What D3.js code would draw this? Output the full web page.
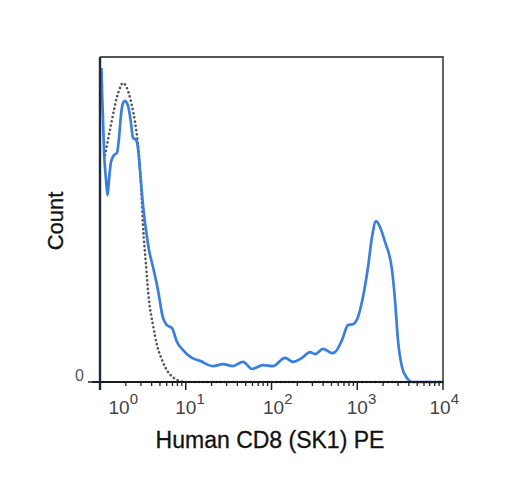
<!DOCTYPE html>
<html>
<head>
<meta charset="utf-8">
<script src="https://cdn.jsdelivr.net/npm/d3@7"></script>
<style>
html,body{margin:0;padding:0;background:#fff;}
svg{display:block;font-family:"Liberation Sans",Arial,sans-serif;}
</style>
</head>
<body>
<svg id="chart" width="512" height="480"></svg>
<script>
// Fluorescence values (log axis) and counts
const stainedX = [1.04,1.055,1.084,1.113,1.175,1.223,1.273,1.343,1.456,1.578,1.666,1.758,1.854,1.956,2.064,2.178,2.299,2.426,2.63,2.774,2.927,3.172,3.439,3.728,4.15,4.743,5.429,6.04,6.91,7.91,9.29,11.83,14.66,20.8,27.2,35.6,46.5,59.3,79.6,104,144,178,227,281,322,399,508,551,664,780,892,1021,1167,1335,1486,1655,1842,2107,2543,2756,2985,3325,3803,4350,6000,10000];
const stainedY = [96.6,89.8,80.6,71.4,62.2,57.5,62.2,67.7,69.8,70.5,75.1,82.2,85.8,86.5,85.8,83.7,79.7,75.1,74.5,72.0,65.2,54.5,46.8,40.6,35.4,28.3,19.7,17.5,16.6,12.3,9.8,7.4,6.5,4.9,5.5,4.9,6.2,4.0,5.2,4.9,7.4,6.2,7.4,9.2,8.6,10.2,8.9,9.2,12.9,17.5,17.8,20.0,26.2,35.4,44.6,49.5,47.7,43.1,34.5,25.2,12.9,4.6,1.2,0,0,0];
const controlX = [1.144,1.24,1.343,1.456,1.578,1.711,1.854,2.009,2.178,2.36,2.56,2.774,3.006,3.172,3.439,3.728,4.15,4.62,5.28,6.21,7.29,8.57,10.07,100,1000,10000];
const controlY = [69.8,74.5,79.1,83.7,87.7,90.5,92.0,91.1,88.6,84.9,80.0,72.9,60.6,48.3,36.0,25.2,17.5,11.4,6.8,3.1,1.2,0.3,0,0,0,0];
const decadeTicks = [1,10,100,1000,10000];
const decadeExps = ["0","1","2","3","4"];
const yTicks = [0];
const yTickLabels = ["0"];
const xTitle = "Human CD8 (SK1) PE";
const yTitle = "Count";

const svg = d3.select("#chart");
const L = 100, R = 443, T = 57, B = 382;
const x = d3.scaleLog().domain([1,10000]).range([L,R]);
const y = d3.scaleLinear().domain([0,100]).range([B,T]);

// frame top/right
svg.append("path")
  .attr("d", `M${L},${T}H${R}V${B}`)
  .attr("fill","none").attr("stroke","#555").attr("stroke-width",1.8);

const line = d3.line().x(d=>x(d[0])).y(d=>y(d[1])).curve(d3.curveMonotoneX);

// control (dotted)
svg.append("path")
  .datum(controlX.map((v,i)=>[v,controlY[i]]))
  .attr("d", line)
  .attr("fill","none").attr("stroke","#555").attr("stroke-width",2.6)
  .attr("stroke-dasharray","0.1,4.2").attr("stroke-linecap","round");

// stained (blue)
svg.append("path")
  .datum(stainedX.map((v,i)=>[v,stainedY[i]]))
  .attr("d", line)
  .attr("fill","none").attr("stroke","#3a7fdd").attr("stroke-width",2.7)
  .attr("stroke-linejoin","round");

// x axis
const minor = [];
for (let d=1; d<10000; d*=10) for (let k=2;k<10;k++) minor.push(d*k);
const xg = svg.append("g");
xg.append("line").attr("x1",92).attr("x2",R).attr("y1",B).attr("y2",B)
  .attr("stroke","#1a1a1a").attr("stroke-width",1.8);
xg.selectAll(".mn").data(minor).enter().append("line")
  .attr("x1",d=>x(d)).attr("x2",d=>x(d)).attr("y1",B).attr("y2",B+4)
  .attr("stroke","#222").attr("stroke-width",1.3);
xg.selectAll(".mj").data(decadeTicks).enter().append("line")
  .attr("x1",d=>x(d)).attr("x2",d=>x(d)).attr("y1",B-1).attr("y2",B+8)
  .attr("stroke","#222").attr("stroke-width",1.5);

const labelShift = [19,0,2,0,-3];
const lab = xg.selectAll(".tl").data(decadeTicks).enter().append("text")
  .attr("x",(d,i)=>x(d)+labelShift[i]-10.5)
  .attr("y",414)
  .attr("font-size",19).attr("fill","#444");
lab.append("tspan").text("10");
lab.append("tspan").attr("dy",-10).attr("font-size",15).text((d,i)=>decadeExps[i]);

// y axis
const yg = svg.append("g");
yg.append("line").attr("x1",L).attr("x2",L).attr("y1",T).attr("y2",B+8)
  .attr("stroke","#1c2a3c").attr("stroke-width",2.4);
yg.selectAll(".yt").data(yTicks).enter().append("line")
  .attr("x1",88).attr("x2",L).attr("y1",d=>y(d)).attr("y2",d=>y(d))
  .attr("stroke","#222").attr("stroke-width",1.5);
yg.selectAll(".ytl").data(yTicks).enter().append("text")
  .attr("x",84).attr("y",d=>y(d)-1)
  .attr("text-anchor","end").attr("font-size",16).attr("fill","#555")
  .text((d,i)=>yTickLabels[i]);

// titles
svg.append("text").attr("x",270).attr("y",448).attr("text-anchor","middle")
  .attr("font-size",23).attr("fill","#111").attr("stroke","#111").attr("stroke-width",0.3)
  .text(xTitle);
svg.append("text").attr("transform","translate(63,221) rotate(-90)")
  .attr("text-anchor","middle").attr("font-size",22).attr("fill","#111")
  .attr("stroke","#111").attr("stroke-width",0.3).text(yTitle);
</script>
</body>
</html>
